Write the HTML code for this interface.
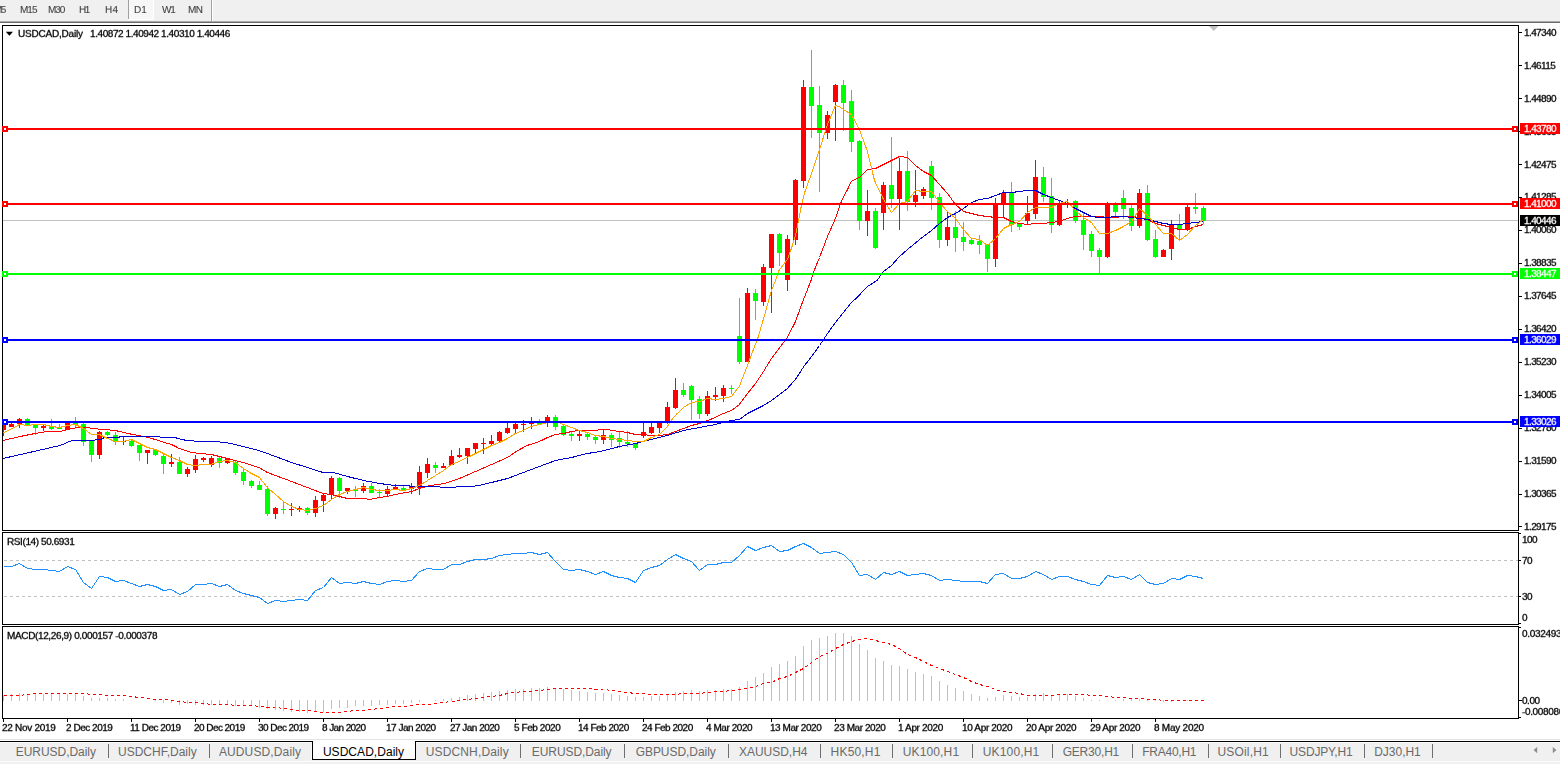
<!DOCTYPE html>
<html><head><meta charset="utf-8"><title>USDCAD,Daily</title><style>
html,body{margin:0;padding:0}
body{width:1560px;height:764px;overflow:hidden;background:#fff;position:relative;font-family:"Liberation Sans",sans-serif;}
.t{position:absolute;white-space:pre;line-height:12px;height:12px;font-size:10px;color:#000;letter-spacing:-0.33px}
.tb{position:absolute;white-space:pre;font-size:10px;line-height:12px;color:#3c3c3c;top:3.8px}
.pl{position:absolute;white-space:pre;font-size:10px;line-height:12px;height:12px;color:#000;letter-spacing:-0.6px;left:1524.3px}
.bx{position:absolute;left:1520px;width:40px;height:11px;}
.bx span{position:absolute;left:4.3px;top:-0.3px;white-space:pre;font-size:10px;line-height:12px;color:#fff;letter-spacing:-0.6px}
.dl{position:absolute;white-space:pre;font-size:10px;line-height:12px;top:721.7px;color:#000}
.tab{position:absolute;white-space:pre;font-size:12px;line-height:14px;top:745px;color:#6a6a6a}
.sep{position:absolute;top:744px;width:1px;height:14px;background:#6e6e6e}
svg{position:absolute;left:0;top:0}
.t,.tb,.pl,.bx span,.dl{transform:scaleY(0.89);transform-origin:0 9.4px;will-change:transform;-webkit-text-stroke:0.3px}
.tb{-webkit-text-stroke:0.08px}

</style></head><body>
<div style="position:absolute;left:0;top:0;width:1560px;height:21px;background:#f0f0f0"></div>
<div style="position:absolute;left:0;top:21px;width:1560px;height:1px;background:#a9a9a9"></div>
<div style="position:absolute;left:0;top:22px;width:1560px;height:1px;background:#6b6b6b"></div>
<div style="position:absolute;left:129px;top:0;width:24px;height:19px;background:#f7f7f7"></div>
<div style="position:absolute;left:128px;top:0;width:1px;height:19px;background:#a0a0a0"></div>
<div style="position:absolute;left:153px;top:0;width:1px;height:20px;background:#fff"></div>
<div style="position:absolute;left:128px;top:19px;width:26px;height:1px;background:#fff"></div>
<div style="position:absolute;left:212px;top:0;width:1px;height:21px;background:#fff"></div>
<div style="position:absolute;left:211px;top:0;width:1px;height:21px;background:#a0a0a0"></div>
<div class="tb" style="left:-6.0px;letter-spacing:-1.692px">M5</div>
<div class="tb" style="left:19.6px;letter-spacing:-0.977px">M15</div>
<div class="tb" style="left:47.9px;letter-spacing:-1.077px">M30</div>
<div class="tb" style="left:78.7px;letter-spacing:-1.583px">H1</div>
<div class="tb" style="left:105.2px;letter-spacing:0.217px">H4</div>
<div class="tb" style="left:133.9px;letter-spacing:-0.083px">D1</div>
<div class="tb" style="left:162px;letter-spacing:-1.200px">W1</div>
<div class="tb" style="left:188.3px;letter-spacing:-0.552px">MN</div>
<svg width="1560" height="764" viewBox="0 0 1560 764" shape-rendering="crispEdges">
<defs><clipPath id="cm"><rect x="3" y="26" width="1515" height="504"/></clipPath></defs>
<rect x="3" y="220" width="1515" height="1" fill="#c0c0c0"/>
<g clip-path="url(#cm)">
<rect x="3" y="425" width="1" height="11" fill="#ff0000"/>
<rect x="1" y="425" width="5" height="5" fill="#ff0000"/>
<rect x="11" y="423" width="1" height="4" fill="#ff0000"/>
<rect x="9" y="424" width="5" height="3" fill="#ff0000"/>
<rect x="19" y="418" width="1" height="10" fill="#ff0000"/>
<rect x="17" y="419" width="5" height="5" fill="#ff0000"/>
<rect x="27" y="418" width="1" height="8" fill="#00ff00"/>
<rect x="25" y="419" width="5" height="6" fill="#00ff00"/>
<rect x="35" y="424" width="1" height="11" fill="#00ff00"/>
<rect x="33" y="425" width="5" height="3" fill="#00ff00"/>
<rect x="43" y="424" width="1" height="7" fill="#ff0000"/>
<rect x="41" y="426" width="5" height="2" fill="#ff0000"/>
<rect x="51" y="419" width="1" height="11" fill="#00ff00"/>
<rect x="49" y="426" width="5" height="3" fill="#00ff00"/>
<rect x="59" y="424" width="1" height="4" fill="#00ff00"/>
<rect x="57" y="428" width="5" height="1" fill="#00ff00"/>
<rect x="67" y="423" width="1" height="7" fill="#ff0000"/>
<rect x="65" y="423" width="5" height="7" fill="#ff0000"/>
<rect x="75" y="417" width="1" height="11" fill="#00ff00"/>
<rect x="73" y="423" width="5" height="2" fill="#00ff00"/>
<rect x="83" y="423" width="1" height="23" fill="#00ff00"/>
<rect x="81" y="424" width="5" height="18" fill="#00ff00"/>
<rect x="91" y="441" width="1" height="21" fill="#00ff00"/>
<rect x="89" y="441" width="5" height="14" fill="#00ff00"/>
<rect x="99" y="431" width="1" height="28" fill="#ff0000"/>
<rect x="97" y="432" width="5" height="23" fill="#ff0000"/>
<rect x="107" y="431" width="1" height="5" fill="#00ff00"/>
<rect x="105" y="432" width="5" height="3" fill="#00ff00"/>
<rect x="115" y="432" width="1" height="13" fill="#00ff00"/>
<rect x="113" y="435" width="5" height="7" fill="#00ff00"/>
<rect x="123" y="437" width="1" height="8" fill="#ff0000"/>
<rect x="121" y="441" width="5" height="1" fill="#ff0000"/>
<rect x="131" y="440" width="1" height="7" fill="#00ff00"/>
<rect x="129" y="441" width="5" height="5" fill="#00ff00"/>
<rect x="139" y="445" width="1" height="16" fill="#00ff00"/>
<rect x="137" y="445" width="5" height="8" fill="#00ff00"/>
<rect x="147" y="450" width="1" height="14" fill="#ff0000"/>
<rect x="145" y="450" width="5" height="3" fill="#ff0000"/>
<rect x="155" y="449" width="1" height="7" fill="#00ff00"/>
<rect x="153" y="450" width="5" height="5" fill="#00ff00"/>
<rect x="163" y="454" width="1" height="20" fill="#00ff00"/>
<rect x="161" y="456" width="5" height="8" fill="#00ff00"/>
<rect x="171" y="454" width="1" height="13" fill="#ff0000"/>
<rect x="169" y="462" width="5" height="2" fill="#ff0000"/>
<rect x="179" y="457" width="1" height="17" fill="#00ff00"/>
<rect x="177" y="462" width="5" height="12" fill="#00ff00"/>
<rect x="187" y="467" width="1" height="10" fill="#ff0000"/>
<rect x="185" y="469" width="5" height="5" fill="#ff0000"/>
<rect x="195" y="455" width="1" height="18" fill="#ff0000"/>
<rect x="193" y="459" width="5" height="11" fill="#ff0000"/>
<rect x="203" y="457" width="1" height="5" fill="#ff0000"/>
<rect x="201" y="458" width="5" height="2" fill="#ff0000"/>
<rect x="211" y="456" width="1" height="11" fill="#ff0000"/>
<rect x="209" y="458" width="5" height="7" fill="#ff0000"/>
<rect x="219" y="457" width="1" height="11" fill="#00ff00"/>
<rect x="217" y="458" width="5" height="5" fill="#00ff00"/>
<rect x="227" y="458" width="1" height="6" fill="#ff0000"/>
<rect x="225" y="459" width="5" height="4" fill="#ff0000"/>
<rect x="235" y="461" width="1" height="14" fill="#00ff00"/>
<rect x="233" y="462" width="5" height="11" fill="#00ff00"/>
<rect x="243" y="468" width="1" height="17" fill="#00ff00"/>
<rect x="241" y="472" width="5" height="9" fill="#00ff00"/>
<rect x="251" y="480" width="1" height="8" fill="#00ff00"/>
<rect x="249" y="481" width="5" height="5" fill="#00ff00"/>
<rect x="259" y="481" width="1" height="9" fill="#00ff00"/>
<rect x="257" y="485" width="5" height="5" fill="#00ff00"/>
<rect x="267" y="486" width="1" height="30" fill="#00ff00"/>
<rect x="265" y="489" width="5" height="25" fill="#00ff00"/>
<rect x="275" y="507" width="1" height="12" fill="#ff0000"/>
<rect x="273" y="508" width="5" height="6" fill="#ff0000"/>
<rect x="283" y="502" width="1" height="12" fill="#00ff00"/>
<rect x="281" y="509" width="5" height="1" fill="#00ff00"/>
<rect x="291" y="503" width="1" height="13" fill="#ff0000"/>
<rect x="289" y="509" width="5" height="1" fill="#ff0000"/>
<rect x="299" y="506" width="1" height="6" fill="#ff0000"/>
<rect x="297" y="508" width="5" height="2" fill="#ff0000"/>
<rect x="307" y="507" width="1" height="8" fill="#00ff00"/>
<rect x="305" y="508" width="5" height="5" fill="#00ff00"/>
<rect x="315" y="496" width="1" height="21" fill="#ff0000"/>
<rect x="313" y="500" width="5" height="13" fill="#ff0000"/>
<rect x="323" y="493" width="1" height="19" fill="#ff0000"/>
<rect x="321" y="495" width="5" height="6" fill="#ff0000"/>
<rect x="331" y="476" width="1" height="23" fill="#ff0000"/>
<rect x="329" y="478" width="5" height="17" fill="#ff0000"/>
<rect x="339" y="477" width="1" height="21" fill="#00ff00"/>
<rect x="337" y="478" width="5" height="13" fill="#00ff00"/>
<rect x="347" y="488" width="1" height="6" fill="#ff0000"/>
<rect x="345" y="488" width="5" height="3" fill="#ff0000"/>
<rect x="355" y="486" width="1" height="11" fill="#00ff00"/>
<rect x="353" y="490" width="5" height="1" fill="#00ff00"/>
<rect x="363" y="483" width="1" height="10" fill="#ff0000"/>
<rect x="361" y="486" width="5" height="5" fill="#ff0000"/>
<rect x="371" y="483" width="1" height="10" fill="#00ff00"/>
<rect x="369" y="486" width="5" height="7" fill="#00ff00"/>
<rect x="379" y="489" width="1" height="8" fill="#00ff00"/>
<rect x="377" y="492" width="5" height="1" fill="#00ff00"/>
<rect x="387" y="486" width="1" height="11" fill="#ff0000"/>
<rect x="385" y="489" width="5" height="5" fill="#ff0000"/>
<rect x="395" y="484" width="1" height="6" fill="#ff0000"/>
<rect x="393" y="487" width="5" height="3" fill="#ff0000"/>
<rect x="403" y="486" width="1" height="4" fill="#00ff00"/>
<rect x="401" y="488" width="5" height="2" fill="#00ff00"/>
<rect x="411" y="483" width="1" height="11" fill="#ff0000"/>
<rect x="409" y="486" width="5" height="3" fill="#ff0000"/>
<rect x="419" y="466" width="1" height="29" fill="#ff0000"/>
<rect x="417" y="472" width="5" height="16" fill="#ff0000"/>
<rect x="427" y="458" width="1" height="20" fill="#ff0000"/>
<rect x="425" y="464" width="5" height="9" fill="#ff0000"/>
<rect x="435" y="462" width="1" height="11" fill="#00ff00"/>
<rect x="433" y="465" width="5" height="3" fill="#00ff00"/>
<rect x="443" y="463" width="1" height="5" fill="#ff0000"/>
<rect x="441" y="466" width="5" height="2" fill="#ff0000"/>
<rect x="451" y="450" width="1" height="15" fill="#ff0000"/>
<rect x="449" y="456" width="5" height="9" fill="#ff0000"/>
<rect x="459" y="448" width="1" height="10" fill="#ff0000"/>
<rect x="457" y="455" width="5" height="2" fill="#ff0000"/>
<rect x="467" y="448" width="1" height="16" fill="#ff0000"/>
<rect x="465" y="448" width="5" height="8" fill="#ff0000"/>
<rect x="475" y="443" width="1" height="10" fill="#ff0000"/>
<rect x="473" y="443" width="5" height="6" fill="#ff0000"/>
<rect x="483" y="438" width="1" height="16" fill="#ff0000"/>
<rect x="481" y="443" width="5" height="1" fill="#ff0000"/>
<rect x="491" y="435" width="1" height="11" fill="#ff0000"/>
<rect x="489" y="441" width="5" height="3" fill="#ff0000"/>
<rect x="499" y="431" width="1" height="11" fill="#ff0000"/>
<rect x="497" y="432" width="5" height="9" fill="#ff0000"/>
<rect x="507" y="423" width="1" height="11" fill="#ff0000"/>
<rect x="505" y="428" width="5" height="5" fill="#ff0000"/>
<rect x="515" y="423" width="1" height="11" fill="#ff0000"/>
<rect x="513" y="424" width="5" height="5" fill="#ff0000"/>
<rect x="523" y="420" width="1" height="12" fill="#ff0000"/>
<rect x="521" y="424" width="5" height="1" fill="#ff0000"/>
<rect x="531" y="417" width="1" height="12" fill="#ff0000"/>
<rect x="529" y="423" width="5" height="1" fill="#ff0000"/>
<rect x="539" y="419" width="1" height="5" fill="#00ff00"/>
<rect x="537" y="422" width="5" height="2" fill="#00ff00"/>
<rect x="547" y="415" width="1" height="12" fill="#ff0000"/>
<rect x="545" y="417" width="5" height="6" fill="#ff0000"/>
<rect x="555" y="415" width="1" height="15" fill="#00ff00"/>
<rect x="553" y="417" width="5" height="10" fill="#00ff00"/>
<rect x="563" y="424" width="1" height="12" fill="#00ff00"/>
<rect x="561" y="426" width="5" height="9" fill="#00ff00"/>
<rect x="571" y="432" width="1" height="9" fill="#00ff00"/>
<rect x="569" y="434" width="5" height="2" fill="#00ff00"/>
<rect x="579" y="430" width="1" height="11" fill="#ff0000"/>
<rect x="577" y="434" width="5" height="2" fill="#ff0000"/>
<rect x="587" y="433" width="1" height="7" fill="#00ff00"/>
<rect x="585" y="434" width="5" height="3" fill="#00ff00"/>
<rect x="595" y="436" width="1" height="8" fill="#00ff00"/>
<rect x="593" y="437" width="5" height="3" fill="#00ff00"/>
<rect x="603" y="430" width="1" height="14" fill="#ff0000"/>
<rect x="601" y="435" width="5" height="5" fill="#ff0000"/>
<rect x="611" y="433" width="1" height="14" fill="#00ff00"/>
<rect x="609" y="435" width="5" height="5" fill="#00ff00"/>
<rect x="619" y="432" width="1" height="16" fill="#00ff00"/>
<rect x="617" y="438" width="5" height="4" fill="#00ff00"/>
<rect x="627" y="431" width="1" height="16" fill="#00ff00"/>
<rect x="625" y="442" width="5" height="2" fill="#00ff00"/>
<rect x="635" y="444" width="1" height="6" fill="#00ff00"/>
<rect x="633" y="444" width="5" height="4" fill="#00ff00"/>
<rect x="643" y="423" width="1" height="15" fill="#ff0000"/>
<rect x="641" y="432" width="5" height="4" fill="#ff0000"/>
<rect x="651" y="423" width="1" height="11" fill="#ff0000"/>
<rect x="649" y="427" width="5" height="6" fill="#ff0000"/>
<rect x="659" y="423" width="1" height="10" fill="#ff0000"/>
<rect x="657" y="423" width="5" height="5" fill="#ff0000"/>
<rect x="667" y="402" width="1" height="22" fill="#ff0000"/>
<rect x="665" y="407" width="5" height="15" fill="#ff0000"/>
<rect x="675" y="378" width="1" height="31" fill="#ff0000"/>
<rect x="673" y="390" width="5" height="18" fill="#ff0000"/>
<rect x="683" y="383" width="1" height="14" fill="#00ff00"/>
<rect x="681" y="390" width="5" height="5" fill="#00ff00"/>
<rect x="691" y="385" width="1" height="35" fill="#00ff00"/>
<rect x="689" y="386" width="5" height="14" fill="#00ff00"/>
<rect x="699" y="396" width="1" height="23" fill="#00ff00"/>
<rect x="697" y="399" width="5" height="15" fill="#00ff00"/>
<rect x="707" y="391" width="1" height="25" fill="#ff0000"/>
<rect x="705" y="396" width="5" height="18" fill="#ff0000"/>
<rect x="715" y="387" width="1" height="14" fill="#ff0000"/>
<rect x="713" y="395" width="5" height="2" fill="#ff0000"/>
<rect x="723" y="385" width="1" height="17" fill="#ff0000"/>
<rect x="721" y="388" width="5" height="8" fill="#ff0000"/>
<rect x="731" y="385" width="1" height="9" fill="#00ff00"/>
<rect x="729" y="388" width="5" height="1" fill="#00ff00"/>
<rect x="739" y="298" width="1" height="66" fill="#00ff00"/>
<rect x="737" y="336" width="5" height="26" fill="#00ff00"/>
<rect x="747" y="288" width="1" height="74" fill="#ff0000"/>
<rect x="745" y="293" width="5" height="69" fill="#ff0000"/>
<rect x="755" y="289" width="1" height="31" fill="#00ff00"/>
<rect x="753" y="293" width="5" height="8" fill="#00ff00"/>
<rect x="763" y="264" width="1" height="42" fill="#ff0000"/>
<rect x="761" y="267" width="5" height="35" fill="#ff0000"/>
<rect x="771" y="234" width="1" height="79" fill="#ff0000"/>
<rect x="769" y="234" width="5" height="34" fill="#ff0000"/>
<rect x="779" y="233" width="1" height="33" fill="#00ff00"/>
<rect x="777" y="234" width="5" height="19" fill="#00ff00"/>
<rect x="787" y="235" width="1" height="56" fill="#ff0000"/>
<rect x="785" y="239" width="5" height="41" fill="#ff0000"/>
<rect x="795" y="179" width="1" height="66" fill="#ff0000"/>
<rect x="793" y="180" width="5" height="60" fill="#ff0000"/>
<rect x="803" y="80" width="1" height="108" fill="#ff0000"/>
<rect x="801" y="87" width="5" height="94" fill="#ff0000"/>
<rect x="811" y="50" width="1" height="88" fill="#00ff00"/>
<rect x="809" y="87" width="5" height="19" fill="#00ff00"/>
<rect x="819" y="86" width="1" height="106" fill="#00ff00"/>
<rect x="817" y="105" width="5" height="28" fill="#00ff00"/>
<rect x="827" y="111" width="1" height="28" fill="#ff0000"/>
<rect x="825" y="115" width="5" height="18" fill="#ff0000"/>
<rect x="835" y="84" width="1" height="57" fill="#ff0000"/>
<rect x="833" y="85" width="5" height="17" fill="#ff0000"/>
<rect x="843" y="80" width="1" height="51" fill="#00ff00"/>
<rect x="841" y="85" width="5" height="18" fill="#00ff00"/>
<rect x="851" y="90" width="1" height="62" fill="#00ff00"/>
<rect x="849" y="101" width="5" height="41" fill="#00ff00"/>
<rect x="859" y="140" width="1" height="90" fill="#00ff00"/>
<rect x="857" y="141" width="5" height="80" fill="#00ff00"/>
<rect x="867" y="190" width="1" height="46" fill="#ff0000"/>
<rect x="865" y="211" width="5" height="10" fill="#ff0000"/>
<rect x="875" y="208" width="1" height="41" fill="#00ff00"/>
<rect x="873" y="211" width="5" height="37" fill="#00ff00"/>
<rect x="883" y="182" width="1" height="48" fill="#ff0000"/>
<rect x="881" y="185" width="5" height="28" fill="#ff0000"/>
<rect x="891" y="137" width="1" height="71" fill="#00ff00"/>
<rect x="889" y="185" width="5" height="14" fill="#00ff00"/>
<rect x="899" y="158" width="1" height="72" fill="#ff0000"/>
<rect x="897" y="171" width="5" height="28" fill="#ff0000"/>
<rect x="907" y="151" width="1" height="60" fill="#00ff00"/>
<rect x="905" y="171" width="5" height="31" fill="#00ff00"/>
<rect x="915" y="170" width="1" height="37" fill="#ff0000"/>
<rect x="913" y="195" width="5" height="7" fill="#ff0000"/>
<rect x="923" y="187" width="1" height="12" fill="#ff0000"/>
<rect x="921" y="189" width="5" height="7" fill="#ff0000"/>
<rect x="931" y="161" width="1" height="49" fill="#00ff00"/>
<rect x="929" y="166" width="5" height="32" fill="#00ff00"/>
<rect x="939" y="193" width="1" height="55" fill="#00ff00"/>
<rect x="937" y="197" width="5" height="43" fill="#00ff00"/>
<rect x="947" y="211" width="1" height="35" fill="#ff0000"/>
<rect x="945" y="227" width="5" height="13" fill="#ff0000"/>
<rect x="955" y="211" width="1" height="41" fill="#00ff00"/>
<rect x="953" y="227" width="5" height="11" fill="#00ff00"/>
<rect x="963" y="222" width="1" height="29" fill="#00ff00"/>
<rect x="961" y="237" width="5" height="5" fill="#00ff00"/>
<rect x="971" y="239" width="1" height="6" fill="#00ff00"/>
<rect x="969" y="240" width="5" height="4" fill="#00ff00"/>
<rect x="979" y="235" width="1" height="19" fill="#00ff00"/>
<rect x="977" y="241" width="5" height="4" fill="#00ff00"/>
<rect x="987" y="244" width="1" height="28" fill="#00ff00"/>
<rect x="985" y="244" width="5" height="15" fill="#00ff00"/>
<rect x="995" y="198" width="1" height="69" fill="#ff0000"/>
<rect x="993" y="204" width="5" height="55" fill="#ff0000"/>
<rect x="1003" y="190" width="1" height="28" fill="#ff0000"/>
<rect x="1001" y="193" width="5" height="11" fill="#ff0000"/>
<rect x="1011" y="182" width="1" height="50" fill="#00ff00"/>
<rect x="1009" y="192" width="5" height="33" fill="#00ff00"/>
<rect x="1019" y="224" width="1" height="6" fill="#00ff00"/>
<rect x="1017" y="224" width="5" height="3" fill="#00ff00"/>
<rect x="1027" y="196" width="1" height="29" fill="#ff0000"/>
<rect x="1025" y="213" width="5" height="8" fill="#ff0000"/>
<rect x="1035" y="160" width="1" height="59" fill="#ff0000"/>
<rect x="1033" y="177" width="5" height="37" fill="#ff0000"/>
<rect x="1043" y="167" width="1" height="35" fill="#00ff00"/>
<rect x="1041" y="177" width="5" height="20" fill="#00ff00"/>
<rect x="1051" y="178" width="1" height="55" fill="#00ff00"/>
<rect x="1049" y="196" width="5" height="29" fill="#00ff00"/>
<rect x="1059" y="201" width="1" height="25" fill="#ff0000"/>
<rect x="1057" y="204" width="5" height="21" fill="#ff0000"/>
<rect x="1067" y="199" width="1" height="9" fill="#ff0000"/>
<rect x="1065" y="203" width="5" height="2" fill="#ff0000"/>
<rect x="1075" y="200" width="1" height="23" fill="#00ff00"/>
<rect x="1073" y="201" width="5" height="20" fill="#00ff00"/>
<rect x="1083" y="213" width="1" height="37" fill="#00ff00"/>
<rect x="1081" y="220" width="5" height="15" fill="#00ff00"/>
<rect x="1091" y="231" width="1" height="26" fill="#00ff00"/>
<rect x="1089" y="234" width="5" height="17" fill="#00ff00"/>
<rect x="1099" y="248" width="1" height="25" fill="#00ff00"/>
<rect x="1097" y="250" width="5" height="7" fill="#00ff00"/>
<rect x="1107" y="202" width="1" height="56" fill="#ff0000"/>
<rect x="1105" y="204" width="5" height="53" fill="#ff0000"/>
<rect x="1115" y="202" width="1" height="14" fill="#00ff00"/>
<rect x="1113" y="205" width="5" height="7" fill="#00ff00"/>
<rect x="1123" y="190" width="1" height="29" fill="#00ff00"/>
<rect x="1121" y="198" width="5" height="11" fill="#00ff00"/>
<rect x="1131" y="205" width="1" height="26" fill="#00ff00"/>
<rect x="1129" y="208" width="5" height="18" fill="#00ff00"/>
<rect x="1139" y="189" width="1" height="39" fill="#ff0000"/>
<rect x="1137" y="193" width="5" height="33" fill="#ff0000"/>
<rect x="1147" y="185" width="1" height="56" fill="#00ff00"/>
<rect x="1145" y="193" width="5" height="47" fill="#00ff00"/>
<rect x="1155" y="230" width="1" height="28" fill="#00ff00"/>
<rect x="1153" y="239" width="5" height="18" fill="#00ff00"/>
<rect x="1163" y="249" width="1" height="8" fill="#ff0000"/>
<rect x="1161" y="250" width="5" height="7" fill="#ff0000"/>
<rect x="1171" y="220" width="1" height="40" fill="#ff0000"/>
<rect x="1169" y="224" width="5" height="25" fill="#ff0000"/>
<rect x="1179" y="214" width="1" height="27" fill="#00ff00"/>
<rect x="1177" y="225" width="5" height="4" fill="#00ff00"/>
<rect x="1187" y="205" width="1" height="26" fill="#ff0000"/>
<rect x="1185" y="207" width="5" height="23" fill="#ff0000"/>
<rect x="1195" y="193" width="1" height="21" fill="#00ff00"/>
<rect x="1193" y="207" width="5" height="2" fill="#00ff00"/>
<rect x="1203" y="206" width="1" height="18" fill="#00ff00"/>
<rect x="1201" y="208" width="5" height="13" fill="#00ff00"/>
</g>
<polyline points="3.0,440.5 20.0,436.5 35.0,433.5 47.0,431.5 60.0,431.5 64.7,430.5 71.0,428.5 78.9,427.5 87.5,427.5 92.0,428.5 104.0,429.5 115.0,430.5 120.0,431.5 124.0,432.5 128.0,433.5 133.0,434.5 139.0,435.5 148.0,437.5 151.5,438.5 155.4,439.5 159.0,440.5 164.0,442.5 168.0,443.5 171.5,444.5 175.5,446.5 179.0,448.5 192.0,452.5 200.0,453.5 211.5,454.5 227.5,458.5 243.0,462.5 259.0,467.5 267.4,472.5 275.5,475.5 291.6,481.5 307.3,487.5 323.0,493.5 331.4,494.5 339.4,496.5 347.5,498.5 363.6,498.5 370.0,499.5 379.5,497.5 387.4,496.5 395.4,494.5 400.0,493.5 411.5,491.5 419.5,488.5 430.0,485.5 444.5,483.5 459.4,478.5 475.5,471.5 491.5,464.5 507.5,457.5 517.8,450.5 527.0,445.5 539.4,441.5 547.5,437.5 555.5,434.5 563.5,433.5 571.5,431.5 579.5,430.5 596.0,430.5 600.0,429.5 606.5,429.5 619.5,431.5 627.5,432.5 635.5,434.5 643.5,434.5 651.4,435.5 659.4,435.5 667.4,434.5 675.5,431.5 683.5,428.5 691.5,425.5 699.5,423.5 707.5,420.5 715.4,417.5 723.4,413.5 731.4,410.5 739.4,404.5 747.5,393.5 755.5,383.5 763.5,371.5 771.4,358.5 787.4,337.5 795.5,321.5 803.5,299.5 811.0,280.5 814.2,270.5 819.5,257.5 827.5,236.5 835.4,218.5 841.7,200.5 847.0,190.5 851.4,181.5 859.4,177.5 867.5,169.5 875.5,168.5 883.5,164.5 891.5,160.5 899.5,156.5 907.5,157.5 915.4,165.5 923.5,171.5 931.5,175.5 939.5,184.5 947.5,193.5 955.5,204.5 963.5,211.5 971.5,213.5 979.5,215.5 987.4,216.5 995.5,217.5 1003.5,217.5 1011.5,221.5 1019.5,223.5 1027.5,224.5 1035.5,223.5 1043.5,223.5 1051.4,222.5 1059.4,221.5 1067.4,218.5 1075.4,216.5 1083.4,216.5 1091.4,216.5 1099.5,216.5 1107.5,217.5 1115.5,217.5 1123.5,216.5 1131.5,216.5 1139.5,217.5 1147.4,219.5 1155.5,223.5 1163.5,225.5 1171.5,227.5 1179.5,229.5 1187.5,229.5 1195.5,226.5 1203.5,224.5" fill="none" stroke="#ff0000" stroke-width="1" shape-rendering="crispEdges" clip-path="url(#cm)"/>
<polyline points="3.0,458.5 60.0,445.5 65.0,443.5 69.4,441.5 73.5,440.5 94.6,440.5 95.5,439.5 100.8,439.5 102.0,438.5 105.0,437.5 119.0,437.5 119.5,436.5 159.8,436.5 160.3,437.5 176.3,437.5 177.0,438.5 187.0,440.5 200.0,441.5 215.7,441.5 231.4,443.5 243.0,446.5 259.0,450.5 275.5,456.5 291.6,462.5 307.3,467.5 323.0,472.5 333.5,472.5 347.5,476.5 363.6,480.5 379.5,483.5 395.4,485.5 400.0,485.5 408.0,485.5 411.5,486.5 439.0,486.5 440.6,487.5 455.0,487.5 457.6,486.5 470.7,486.5 478.5,485.5 491.6,482.5 507.5,478.5 523.4,472.5 539.4,466.5 555.5,460.5 571.5,457.5 587.4,453.5 600.0,451.5 619.5,446.5 635.5,443.5 651.4,439.5 667.4,435.5 683.5,430.5 699.5,427.5 715.4,424.5 731.4,420.5 739.4,419.5 747.5,413.5 755.5,409.5 763.5,405.5 771.5,400.5 779.5,394.5 787.4,388.5 795.4,379.5 803.8,366.5 811.6,356.5 819.5,345.5 827.5,333.5 835.4,322.5 843.4,312.5 851.4,302.5 856.0,298.5 867.5,286.5 877.0,280.5 883.5,271.5 891.5,265.5 899.5,256.5 907.5,249.5 919.6,239.5 931.5,230.5 939.5,223.5 947.5,217.5 955.5,213.5 963.5,208.5 971.5,202.5 979.5,199.5 987.4,198.5 995.5,195.5 1003.5,192.5 1011.5,192.5 1019.5,191.5 1027.5,190.5 1035.5,190.5 1043.5,194.5 1051.4,197.5 1059.4,200.5 1067.4,203.5 1075.4,208.5 1083.4,212.5 1091.4,216.5 1099.5,217.5 1107.5,217.5 1115.5,216.5 1123.5,216.5 1131.5,217.5 1139.5,218.5 1147.4,219.5 1155.5,221.5 1163.5,223.5 1171.5,224.5 1179.5,224.5 1187.5,223.5 1195.5,222.5 1203.5,221.5" fill="none" stroke="#0000cd" stroke-width="1" shape-rendering="crispEdges" clip-path="url(#cm)"/>
<polyline points="3.0,432.5 4.0,432.5 19.6,424.5 27.5,425.5 35.3,424.5 43.5,424.5 51.4,426.5 59.5,427.5 67.5,425.5 75.5,424.5 83.5,428.5 91.5,434.5 99.5,434.5 107.5,438.5 115.4,441.5 123.4,441.5 131.4,439.5 139.4,443.5 147.5,447.5 155.5,449.5 163.5,453.5 171.5,457.5 179.5,460.5 187.4,464.5 195.4,465.5 203.5,464.5 211.0,464.5 219.5,461.5 227.5,460.5 235.5,462.5 243.5,468.5 251.4,473.5 259.4,477.5 267.4,487.5 275.5,494.5 283.5,501.5 291.5,506.5 299.5,509.5 307.5,510.5 315.4,508.5 323.4,505.5 331.4,499.5 339.4,494.5 347.5,491.5 355.5,489.5 363.5,487.5 371.5,489.5 379.5,490.5 387.4,490.5 395.4,489.5 403.5,490.5 411.5,488.5 419.5,485.5 427.5,480.5 435.5,475.5 443.5,470.5 451.4,464.5 459.4,461.5 467.4,457.5 475.5,453.5 483.5,449.5 491.5,445.5 499.5,442.5 507.5,438.5 515.4,433.5 523.4,430.5 531.4,426.5 539.4,424.5 545.0,423.5 547.5,422.5 555.5,422.5 559.0,422.5 561.0,423.5 563.5,424.5 571.5,427.5 579.5,430.5 587.4,432.5 595.4,435.5 603.5,436.5 611.5,438.5 619.5,439.5 627.5,440.5 635.5,441.5 643.5,441.5 651.4,437.5 659.4,434.5 667.4,426.5 673.3,417.5 677.2,413.5 683.5,407.5 691.5,402.5 699.5,401.5 707.5,398.5 715.4,399.5 723.4,398.5 731.4,396.5 736.0,390.5 739.4,386.5 742.7,377.5 747.5,365.5 750.0,358.5 758.0,337.5 764.5,315.5 771.4,290.5 775.6,280.5 778.9,270.5 787.4,259.5 790.7,250.5 795.5,235.5 798.5,220.5 801.8,203.5 805.0,191.5 811.5,173.5 819.5,149.5 827.5,124.5 835.4,105.5 839.0,106.5 843.4,109.5 851.4,114.5 859.4,129.5 867.5,151.5 871.8,169.5 874.5,180.5 883.5,199.5 891.5,212.5 899.5,203.5 907.5,201.5 915.4,190.5 923.5,191.5 931.5,191.5 939.5,202.5 947.5,211.5 955.5,218.5 963.5,229.5 971.5,238.5 979.5,239.5 987.4,245.5 995.5,238.5 1003.5,228.5 1011.5,224.5 1019.5,221.5 1027.5,212.5 1035.5,207.5 1043.5,207.5 1051.4,207.5 1059.4,203.5 1067.4,201.5 1075.4,210.5 1083.4,217.5 1091.4,222.5 1099.5,233.5 1107.5,233.5 1115.5,230.5 1123.5,226.5 1131.5,221.5 1135.5,215.5 1139.5,208.5 1147.4,215.5 1155.5,224.5 1163.5,233.5 1171.5,233.5 1179.5,240.5 1187.5,234.5 1195.5,225.5 1203.5,219.5" fill="none" stroke="#ffa500" stroke-width="1" shape-rendering="crispEdges" clip-path="url(#cm)"/>
<rect x="3" y="128" width="1515" height="2" fill="#ff0000"/>
<rect x="2" y="126" width="6" height="6" fill="#ff0000"/>
<rect x="4" y="128" width="2" height="2" fill="#fff"/>
<rect x="1512" y="126" width="6" height="6" fill="#ff0000"/>
<rect x="1514" y="128" width="2" height="2" fill="#fff"/>
<rect x="3" y="203" width="1515" height="2" fill="#ff0000"/>
<rect x="2" y="201" width="6" height="6" fill="#ff0000"/>
<rect x="4" y="203" width="2" height="2" fill="#fff"/>
<rect x="1512" y="201" width="6" height="6" fill="#ff0000"/>
<rect x="1514" y="203" width="2" height="2" fill="#fff"/>
<rect x="3" y="273" width="1515" height="2" fill="#00ff00"/>
<rect x="2" y="271" width="6" height="6" fill="#00ff00"/>
<rect x="4" y="273" width="2" height="2" fill="#fff"/>
<rect x="1512" y="271" width="6" height="6" fill="#00ff00"/>
<rect x="1514" y="273" width="2" height="2" fill="#fff"/>
<rect x="3" y="339" width="1515" height="2" fill="#0000ff"/>
<rect x="2" y="337" width="6" height="6" fill="#0000ff"/>
<rect x="4" y="339" width="2" height="2" fill="#fff"/>
<rect x="1512" y="337" width="6" height="6" fill="#0000ff"/>
<rect x="1514" y="339" width="2" height="2" fill="#fff"/>
<rect x="3" y="421" width="1515" height="2" fill="#0000ff"/>
<rect x="2" y="419" width="6" height="6" fill="#0000ff"/>
<rect x="4" y="421" width="2" height="2" fill="#fff"/>
<rect x="1512" y="419" width="6" height="6" fill="#0000ff"/>
<rect x="1514" y="421" width="2" height="2" fill="#fff"/>
<polygon points="1209,26 1218.5,26 1213.7,31" fill="#c0c0c0" shape-rendering="geometricPrecision"/>
<line x1="4" y1="560.5" x2="1518" y2="560.5" stroke="#c0c0c0" stroke-width="1" stroke-dasharray="3,3"/>
<line x1="4" y1="596.5" x2="1518" y2="596.5" stroke="#c0c0c0" stroke-width="1" stroke-dasharray="3,3"/>
<polyline points="3.5,566.5 11.5,566.5 19.5,563.5 27.5,568.5 35.5,569.5 43.5,569.5 51.5,570.5 59.5,571.5 67.5,566.5 75.5,569.5 83.5,582.5 91.5,588.5 99.5,576.5 107.5,577.5 115.5,581.5 123.5,580.5 131.5,583.5 139.5,586.5 147.5,584.5 155.5,586.5 163.5,590.5 171.5,589.5 179.5,594.5 187.5,591.5 195.5,584.5 203.5,584.5 211.5,583.5 219.5,586.5 227.5,584.5 235.5,590.5 243.5,593.5 251.5,595.5 259.5,597.5 267.5,603.5 275.5,600.5 283.5,601.5 291.5,600.5 299.5,599.5 307.5,600.5 315.5,590.5 323.5,587.5 331.5,577.5 339.5,583.5 347.5,582.5 355.5,583.5 363.5,581.5 371.5,583.5 379.5,584.5 387.5,581.5 395.5,580.5 403.5,581.5 411.5,580.5 419.5,571.5 427.5,568.5 435.5,569.5 443.5,569.5 451.5,564.5 459.5,564.5 467.5,561.5 475.5,559.5 483.5,559.5 491.5,558.5 499.5,555.5 507.5,554.5 515.5,553.5 523.5,553.5 531.5,552.5 539.5,554.5 547.5,552.5 555.5,561.5 563.5,569.5 571.5,570.5 579.5,569.5 587.5,571.5 595.5,574.5 603.5,571.5 611.5,575.5 619.5,577.5 627.5,578.5 635.5,582.5 643.5,570.5 651.5,567.5 659.5,565.5 667.5,559.5 675.5,554.5 683.5,558.5 691.5,561.5 699.5,570.5 707.5,564.5 715.5,564.5 723.5,562.5 731.5,562.5 739.5,555.5 747.5,546.5 755.5,550.5 763.5,547.5 771.5,545.5 779.5,551.5 787.5,550.5 795.5,546.5 803.5,543.5 811.5,547.5 819.5,553.5 827.5,552.5 835.5,551.5 843.5,554.5 851.5,562.5 859.5,575.5 867.5,574.5 875.5,579.5 883.5,572.5 891.5,574.5 899.5,571.5 907.5,575.5 915.5,574.5 923.5,573.5 931.5,575.5 939.5,580.5 947.5,579.5 955.5,580.5 963.5,581.5 971.5,581.5 979.5,581.5 987.5,583.5 995.5,574.5 1003.5,573.5 1011.5,578.5 1019.5,578.5 1027.5,576.5 1035.5,571.5 1043.5,574.5 1051.5,579.5 1059.5,576.5 1067.5,576.5 1075.5,579.5 1083.5,581.5 1091.5,584.5 1099.5,585.5 1107.5,575.5 1115.5,577.5 1123.5,576.5 1131.5,579.5 1139.5,574.5 1147.5,582.5 1155.5,584.5 1163.5,583.5 1171.5,578.5 1179.5,579.5 1187.5,575.5 1195.5,576.5 1203.5,578.5" fill="none" stroke="#1e90ff" stroke-width="1" shape-rendering="crispEdges"/>
<rect x="3" y="695" width="1" height="6" fill="#c0c0c0"/>
<rect x="11" y="694" width="1" height="7" fill="#c0c0c0"/>
<rect x="19" y="693" width="1" height="8" fill="#c0c0c0"/>
<rect x="27" y="694" width="1" height="7" fill="#c0c0c0"/>
<rect x="35" y="694" width="1" height="7" fill="#c0c0c0"/>
<rect x="43" y="694" width="1" height="7" fill="#c0c0c0"/>
<rect x="51" y="694" width="1" height="7" fill="#c0c0c0"/>
<rect x="59" y="694" width="1" height="7" fill="#c0c0c0"/>
<rect x="67" y="694" width="1" height="7" fill="#c0c0c0"/>
<rect x="75" y="694" width="1" height="7" fill="#c0c0c0"/>
<rect x="83" y="696" width="1" height="5" fill="#c0c0c0"/>
<rect x="91" y="698" width="1" height="3" fill="#c0c0c0"/>
<rect x="99" y="698" width="1" height="3" fill="#c0c0c0"/>
<rect x="107" y="698" width="1" height="3" fill="#c0c0c0"/>
<rect x="115" y="699" width="1" height="2" fill="#c0c0c0"/>
<rect x="123" y="699" width="1" height="2" fill="#c0c0c0"/>
<rect x="155" y="700" width="1" height="1" fill="#c0c0c0"/>
<rect x="163" y="700" width="1" height="3" fill="#c0c0c0"/>
<rect x="171" y="700" width="1" height="3" fill="#c0c0c0"/>
<rect x="179" y="700" width="1" height="5" fill="#c0c0c0"/>
<rect x="187" y="700" width="1" height="4" fill="#c0c0c0"/>
<rect x="195" y="700" width="1" height="5" fill="#c0c0c0"/>
<rect x="203" y="700" width="1" height="5" fill="#c0c0c0"/>
<rect x="211" y="700" width="1" height="5" fill="#c0c0c0"/>
<rect x="219" y="700" width="1" height="5" fill="#c0c0c0"/>
<rect x="227" y="700" width="1" height="5" fill="#c0c0c0"/>
<rect x="235" y="700" width="1" height="6" fill="#c0c0c0"/>
<rect x="243" y="700" width="1" height="6" fill="#c0c0c0"/>
<rect x="251" y="700" width="1" height="6" fill="#c0c0c0"/>
<rect x="259" y="700" width="1" height="8" fill="#c0c0c0"/>
<rect x="267" y="700" width="1" height="9" fill="#c0c0c0"/>
<rect x="275" y="700" width="1" height="10" fill="#c0c0c0"/>
<rect x="283" y="700" width="1" height="11" fill="#c0c0c0"/>
<rect x="291" y="700" width="1" height="12" fill="#c0c0c0"/>
<rect x="299" y="700" width="1" height="12" fill="#c0c0c0"/>
<rect x="307" y="700" width="1" height="13" fill="#c0c0c0"/>
<rect x="315" y="700" width="1" height="12" fill="#c0c0c0"/>
<rect x="323" y="700" width="1" height="12" fill="#c0c0c0"/>
<rect x="331" y="700" width="1" height="9" fill="#c0c0c0"/>
<rect x="339" y="700" width="1" height="8" fill="#c0c0c0"/>
<rect x="347" y="700" width="1" height="8" fill="#c0c0c0"/>
<rect x="355" y="700" width="1" height="6" fill="#c0c0c0"/>
<rect x="363" y="700" width="1" height="6" fill="#c0c0c0"/>
<rect x="371" y="700" width="1" height="6" fill="#c0c0c0"/>
<rect x="379" y="700" width="1" height="5" fill="#c0c0c0"/>
<rect x="387" y="700" width="1" height="5" fill="#c0c0c0"/>
<rect x="395" y="700" width="1" height="4" fill="#c0c0c0"/>
<rect x="403" y="700" width="1" height="4" fill="#c0c0c0"/>
<rect x="411" y="700" width="1" height="3" fill="#c0c0c0"/>
<rect x="419" y="700" width="1" height="2" fill="#c0c0c0"/>
<rect x="435" y="700" width="1" height="1" fill="#c0c0c0"/>
<rect x="443" y="699" width="1" height="2" fill="#c0c0c0"/>
<rect x="451" y="698" width="1" height="3" fill="#c0c0c0"/>
<rect x="459" y="697" width="1" height="4" fill="#c0c0c0"/>
<rect x="467" y="695" width="1" height="6" fill="#c0c0c0"/>
<rect x="475" y="694" width="1" height="7" fill="#c0c0c0"/>
<rect x="483" y="693" width="1" height="8" fill="#c0c0c0"/>
<rect x="491" y="692" width="1" height="9" fill="#c0c0c0"/>
<rect x="499" y="691" width="1" height="10" fill="#c0c0c0"/>
<rect x="507" y="690" width="1" height="11" fill="#c0c0c0"/>
<rect x="515" y="689" width="1" height="12" fill="#c0c0c0"/>
<rect x="523" y="689" width="1" height="12" fill="#c0c0c0"/>
<rect x="531" y="688" width="1" height="13" fill="#c0c0c0"/>
<rect x="539" y="688" width="1" height="13" fill="#c0c0c0"/>
<rect x="547" y="687" width="1" height="14" fill="#c0c0c0"/>
<rect x="555" y="688" width="1" height="13" fill="#c0c0c0"/>
<rect x="563" y="689" width="1" height="12" fill="#c0c0c0"/>
<rect x="571" y="690" width="1" height="11" fill="#c0c0c0"/>
<rect x="579" y="691" width="1" height="10" fill="#c0c0c0"/>
<rect x="587" y="692" width="1" height="9" fill="#c0c0c0"/>
<rect x="595" y="693" width="1" height="8" fill="#c0c0c0"/>
<rect x="603" y="693" width="1" height="8" fill="#c0c0c0"/>
<rect x="611" y="694" width="1" height="7" fill="#c0c0c0"/>
<rect x="619" y="695" width="1" height="6" fill="#c0c0c0"/>
<rect x="627" y="696" width="1" height="5" fill="#c0c0c0"/>
<rect x="635" y="697" width="1" height="4" fill="#c0c0c0"/>
<rect x="643" y="697" width="1" height="4" fill="#c0c0c0"/>
<rect x="651" y="696" width="1" height="5" fill="#c0c0c0"/>
<rect x="659" y="696" width="1" height="5" fill="#c0c0c0"/>
<rect x="667" y="694" width="1" height="7" fill="#c0c0c0"/>
<rect x="675" y="692" width="1" height="9" fill="#c0c0c0"/>
<rect x="683" y="691" width="1" height="10" fill="#c0c0c0"/>
<rect x="691" y="690" width="1" height="11" fill="#c0c0c0"/>
<rect x="699" y="691" width="1" height="10" fill="#c0c0c0"/>
<rect x="707" y="690" width="1" height="11" fill="#c0c0c0"/>
<rect x="715" y="690" width="1" height="11" fill="#c0c0c0"/>
<rect x="723" y="689" width="1" height="12" fill="#c0c0c0"/>
<rect x="731" y="689" width="1" height="12" fill="#c0c0c0"/>
<rect x="739" y="687" width="1" height="14" fill="#c0c0c0"/>
<rect x="747" y="681" width="1" height="20" fill="#c0c0c0"/>
<rect x="755" y="677" width="1" height="24" fill="#c0c0c0"/>
<rect x="763" y="673" width="1" height="28" fill="#c0c0c0"/>
<rect x="771" y="667" width="1" height="34" fill="#c0c0c0"/>
<rect x="779" y="664" width="1" height="37" fill="#c0c0c0"/>
<rect x="787" y="661" width="1" height="40" fill="#c0c0c0"/>
<rect x="795" y="656" width="1" height="45" fill="#c0c0c0"/>
<rect x="803" y="646" width="1" height="55" fill="#c0c0c0"/>
<rect x="811" y="640" width="1" height="61" fill="#c0c0c0"/>
<rect x="819" y="638" width="1" height="63" fill="#c0c0c0"/>
<rect x="827" y="636" width="1" height="65" fill="#c0c0c0"/>
<rect x="835" y="633" width="1" height="68" fill="#c0c0c0"/>
<rect x="843" y="633" width="1" height="68" fill="#c0c0c0"/>
<rect x="851" y="636" width="1" height="65" fill="#c0c0c0"/>
<rect x="859" y="644" width="1" height="57" fill="#c0c0c0"/>
<rect x="867" y="650" width="1" height="51" fill="#c0c0c0"/>
<rect x="875" y="658" width="1" height="43" fill="#c0c0c0"/>
<rect x="883" y="661" width="1" height="40" fill="#c0c0c0"/>
<rect x="891" y="665" width="1" height="36" fill="#c0c0c0"/>
<rect x="899" y="666" width="1" height="35" fill="#c0c0c0"/>
<rect x="907" y="669" width="1" height="32" fill="#c0c0c0"/>
<rect x="915" y="672" width="1" height="29" fill="#c0c0c0"/>
<rect x="923" y="674" width="1" height="27" fill="#c0c0c0"/>
<rect x="931" y="676" width="1" height="25" fill="#c0c0c0"/>
<rect x="939" y="681" width="1" height="20" fill="#c0c0c0"/>
<rect x="947" y="685" width="1" height="16" fill="#c0c0c0"/>
<rect x="955" y="688" width="1" height="13" fill="#c0c0c0"/>
<rect x="963" y="691" width="1" height="10" fill="#c0c0c0"/>
<rect x="971" y="694" width="1" height="7" fill="#c0c0c0"/>
<rect x="979" y="696" width="1" height="5" fill="#c0c0c0"/>
<rect x="987" y="698" width="1" height="3" fill="#c0c0c0"/>
<rect x="995" y="697" width="1" height="4" fill="#c0c0c0"/>
<rect x="1003" y="695" width="1" height="6" fill="#c0c0c0"/>
<rect x="1011" y="696" width="1" height="5" fill="#c0c0c0"/>
<rect x="1019" y="697" width="1" height="4" fill="#c0c0c0"/>
<rect x="1027" y="697" width="1" height="4" fill="#c0c0c0"/>
<rect x="1035" y="694" width="1" height="7" fill="#c0c0c0"/>
<rect x="1043" y="693" width="1" height="8" fill="#c0c0c0"/>
<rect x="1051" y="695" width="1" height="6" fill="#c0c0c0"/>
<rect x="1059" y="694" width="1" height="7" fill="#c0c0c0"/>
<rect x="1067" y="694" width="1" height="7" fill="#c0c0c0"/>
<rect x="1075" y="696" width="1" height="5" fill="#c0c0c0"/>
<rect x="1083" y="698" width="1" height="3" fill="#c0c0c0"/>
<rect x="1091" y="700" width="1" height="1" fill="#c0c0c0"/>
<rect x="1099" y="700" width="1" height="1" fill="#c0c0c0"/>
<rect x="1115" y="700" width="1" height="1" fill="#c0c0c0"/>
<rect x="1123" y="699" width="1" height="2" fill="#c0c0c0"/>
<rect x="1131" y="699" width="1" height="2" fill="#c0c0c0"/>
<rect x="1139" y="699" width="1" height="2" fill="#c0c0c0"/>
<rect x="1147" y="700" width="1" height="1" fill="#c0c0c0"/>
<rect x="1155" y="700" width="1" height="1" fill="#c0c0c0"/>
<rect x="1163" y="700" width="1" height="2" fill="#c0c0c0"/>
<rect x="1171" y="700" width="1" height="2" fill="#c0c0c0"/>
<rect x="1179" y="700" width="1" height="1" fill="#c0c0c0"/>
<rect x="1187" y="700" width="1" height="1" fill="#c0c0c0"/>
<rect x="1195" y="700" width="1" height="1" fill="#c0c0c0"/>
<rect x="1203" y="700" width="1" height="1" fill="#c0c0c0"/>
<polyline points="3.5,695.5 11.5,695.5 19.5,695.5 27.5,694.5 35.5,693.5 43.5,693.5 51.5,693.5 59.5,693.5 67.5,693.5 75.5,693.5 83.5,693.5 91.5,694.5 99.5,694.5 107.5,695.5 115.5,695.5 123.5,695.5 131.5,696.5 139.5,697.5 147.5,698.5 155.5,699.5 163.5,699.5 171.5,700.5 179.5,701.5 187.5,702.5 195.5,702.5 203.5,703.5 211.5,704.5 219.5,704.5 227.5,704.5 235.5,705.5 243.5,705.5 251.5,705.5 259.5,706.5 267.5,707.5 275.5,707.5 283.5,708.5 291.5,709.5 299.5,710.5 307.5,710.5 315.5,711.5 323.5,712.5 331.5,712.5 339.5,712.5 347.5,711.5 355.5,710.5 363.5,710.5 371.5,709.5 379.5,708.5 387.5,707.5 395.5,706.5 403.5,706.5 411.5,705.5 419.5,704.5 427.5,704.5 435.5,703.5 443.5,702.5 451.5,701.5 459.5,700.5 467.5,699.5 475.5,698.5 483.5,697.5 491.5,696.5 499.5,695.5 507.5,693.5 515.5,692.5 523.5,691.5 531.5,691.5 539.5,690.5 547.5,689.5 555.5,688.5 563.5,688.5 571.5,688.5 579.5,688.5 587.5,688.5 595.5,689.5 603.5,689.5 611.5,690.5 619.5,691.5 627.5,692.5 635.5,693.5 643.5,693.5 651.5,694.5 659.5,694.5 667.5,694.5 675.5,694.5 683.5,693.5 691.5,693.5 699.5,693.5 707.5,692.5 715.5,691.5 723.5,691.5 731.5,690.5 739.5,689.5 747.5,688.5 755.5,686.5 763.5,683.5 771.5,682.5 779.5,678.5 787.5,676.5 795.5,672.5 803.5,668.5 811.5,662.5 819.5,656.5 827.5,653.5 835.5,648.5 843.5,644.5 851.5,641.5 859.5,639.5 867.5,638.5 875.5,640.5 883.5,642.5 891.5,644.5 899.5,648.5 907.5,654.5 915.5,657.5 923.5,661.5 931.5,665.5 939.5,668.5 947.5,671.5 955.5,674.5 963.5,677.5 971.5,681.5 979.5,684.5 987.5,686.5 995.5,689.5 1003.5,691.5 1011.5,692.5 1019.5,693.5 1027.5,695.5 1035.5,695.5 1043.5,695.5 1051.5,695.5 1059.5,694.5 1067.5,694.5 1075.5,694.5 1083.5,694.5 1091.5,695.5 1099.5,695.5 1107.5,696.5 1115.5,697.5 1123.5,697.5 1131.5,698.5 1139.5,698.5 1147.5,699.5 1155.5,699.5 1163.5,700.5 1171.5,700.5 1179.5,700.5 1187.5,700.5 1195.5,700.5 1203.5,700.5" fill="none" stroke="#ff0000" stroke-width="1" stroke-dasharray="3,3" shape-rendering="crispEdges"/>
<rect x="2" y="25" width="1517" height="1" fill="#000"/>
<rect x="2" y="25" width="1" height="506" fill="#000"/>
<rect x="1518" y="25" width="1" height="506" fill="#000"/>
<rect x="2" y="530" width="1517" height="1" fill="#000"/>
<rect x="2" y="532" width="1517" height="1" fill="#000"/>
<rect x="2" y="532" width="1" height="93" fill="#000"/>
<rect x="1518" y="532" width="1" height="93" fill="#000"/>
<rect x="2" y="624" width="1517" height="1" fill="#000"/>
<rect x="2" y="626" width="1517" height="1" fill="#000"/>
<rect x="2" y="626" width="1" height="93" fill="#000"/>
<rect x="1518" y="626" width="1" height="93" fill="#000"/>
<rect x="2" y="718" width="1517" height="1" fill="#000"/>
<rect x="2" y="126" width="1" height="6" fill="#ff0000"/>
<rect x="2" y="201" width="1" height="6" fill="#ff0000"/>
<rect x="2" y="271" width="1" height="6" fill="#00ff00"/>
<rect x="2" y="337" width="1" height="6" fill="#0000ff"/>
<rect x="2" y="419" width="1" height="6" fill="#0000ff"/>
<rect x="1519" y="32" width="3" height="1" fill="#000"/>
<rect x="1519" y="65" width="3" height="1" fill="#000"/>
<rect x="1519" y="98" width="3" height="1" fill="#000"/>
<rect x="1519" y="131" width="3" height="1" fill="#000"/>
<rect x="1519" y="164" width="3" height="1" fill="#000"/>
<rect x="1519" y="197" width="3" height="1" fill="#000"/>
<rect x="1519" y="230" width="3" height="1" fill="#000"/>
<rect x="1519" y="263" width="3" height="1" fill="#000"/>
<rect x="1519" y="296" width="3" height="1" fill="#000"/>
<rect x="1519" y="329" width="3" height="1" fill="#000"/>
<rect x="1519" y="362" width="3" height="1" fill="#000"/>
<rect x="1519" y="395" width="3" height="1" fill="#000"/>
<rect x="1519" y="428" width="3" height="1" fill="#000"/>
<rect x="1519" y="461" width="3" height="1" fill="#000"/>
<rect x="1519" y="494" width="3" height="1" fill="#000"/>
<rect x="1519" y="526" width="3" height="1" fill="#000"/>
<rect x="1519" y="560" width="2" height="1" fill="#000"/>
<rect x="1519" y="596" width="2" height="1" fill="#000"/>
<rect x="1519" y="533" width="2" height="1" fill="#000"/>
<rect x="1519" y="623" width="2" height="1" fill="#000"/>
<rect x="1519" y="700" width="3" height="1" fill="#000"/>
<rect x="1519" y="627" width="2" height="1" fill="#000"/>
<rect x="1519" y="717" width="2" height="1" fill="#000"/>
<rect x="3" y="719" width="1" height="3" fill="#000"/>
<rect x="67" y="719" width="1" height="3" fill="#000"/>
<rect x="131" y="719" width="1" height="3" fill="#000"/>
<rect x="195" y="719" width="1" height="3" fill="#000"/>
<rect x="259" y="719" width="1" height="3" fill="#000"/>
<rect x="323" y="719" width="1" height="3" fill="#000"/>
<rect x="387" y="719" width="1" height="3" fill="#000"/>
<rect x="451" y="719" width="1" height="3" fill="#000"/>
<rect x="515" y="719" width="1" height="3" fill="#000"/>
<rect x="579" y="719" width="1" height="3" fill="#000"/>
<rect x="643" y="719" width="1" height="3" fill="#000"/>
<rect x="707" y="719" width="1" height="3" fill="#000"/>
<rect x="771" y="719" width="1" height="3" fill="#000"/>
<rect x="835" y="719" width="1" height="3" fill="#000"/>
<rect x="899" y="719" width="1" height="3" fill="#000"/>
<rect x="963" y="719" width="1" height="3" fill="#000"/>
<rect x="1027" y="719" width="1" height="3" fill="#000"/>
<rect x="1091" y="719" width="1" height="3" fill="#000"/>
<rect x="1155" y="719" width="1" height="3" fill="#000"/>
<polygon points="5.8,31.7 13,31.7 9.4,35.8" fill="#000" shape-rendering="geometricPrecision"/>
</svg>
<div class="t" style="left:18.3px;top:27.5px;letter-spacing:-0.203px">USDCAD,Daily</div>
<div class="t" style="left:90.4px;top:27.5px;letter-spacing:-0.421px">1.40872 1.40942 1.40310 1.40446</div>
<div class="t" style="left:6.8px;top:535.8px;letter-spacing:-0.406px">RSI(14) 50.6931</div>
<div class="t" style="left:6.8px;top:629.7px;letter-spacing:-0.364px">MACD(12,26,9) 0.000157 -0.000378</div>
<div class="pl" style="top:26.7px">1.47340</div>
<div class="pl" style="top:59.7px">1.46115</div>
<div class="pl" style="top:92.6px">1.44890</div>
<div class="pl" style="top:125.6px">1.43665</div>
<div class="pl" style="top:158.5px">1.42475</div>
<div class="pl" style="top:191.4px">1.41285</div>
<div class="pl" style="top:224.4px">1.40060</div>
<div class="pl" style="top:257.4px">1.38835</div>
<div class="pl" style="top:290.3px">1.37645</div>
<div class="pl" style="top:323.2px">1.36420</div>
<div class="pl" style="top:356.2px">1.35230</div>
<div class="pl" style="top:389.2px">1.34005</div>
<div class="pl" style="top:422.1px">1.32780</div>
<div class="pl" style="top:455.1px">1.31590</div>
<div class="pl" style="top:488.0px">1.30365</div>
<div class="pl" style="top:521.0px">1.29175</div>
<div class="pl" style="left:1522.2px;top:533.8px">100</div>
<div class="pl" style="left:1522.2px;top:554.6px">70</div>
<div class="pl" style="left:1522.2px;top:590.8px">30</div>
<div class="pl" style="left:1522.2px;top:611.6px">0</div>
<div class="pl" style="left:1522.2px;top:627.6px;letter-spacing:-0.3px">0.032493</div>
<div class="pl" style="left:1522.2px;top:694.6px;letter-spacing:-0.45px">0.00</div>
<div class="pl" style="left:1522.2px;top:706.0px;letter-spacing:-0.35px">-0.008086</div>
<div class="bx" style="top:123px;background:#ff0000"><span>1.43780</span></div>
<div class="bx" style="top:198px;background:#ff0000"><span>1.41000</span></div>
<div class="bx" style="top:215px;background:#000"><span>1.40446</span></div>
<div class="bx" style="top:268px;background:#00ff00"><span>1.38447</span></div>
<div class="bx" style="top:334px;background:#0000ff"><span>1.36029</span></div>
<div class="bx" style="top:416px;background:#0000ff"><span>1.33026</span></div>
<div class="dl" style="left:2.4px;letter-spacing:-0.291px">22 Nov 2019</div>
<div class="dl" style="left:66.4px;letter-spacing:-0.472px">2 Dec 2019</div>
<div class="dl" style="left:130.4px;letter-spacing:-0.487px">11 Dec 2019</div>
<div class="dl" style="left:194.4px;letter-spacing:-0.551px">20 Dec 2019</div>
<div class="dl" style="left:258.4px;letter-spacing:-0.561px">30 Dec 2019</div>
<div class="dl" style="left:322.4px;letter-spacing:-0.599px">8 Jan 2020</div>
<div class="dl" style="left:386.4px;letter-spacing:-0.495px">17 Jan 2020</div>
<div class="dl" style="left:450.4px;letter-spacing:-0.525px">27 Jan 2020</div>
<div class="dl" style="left:514.4px;letter-spacing:-0.422px">5 Feb 2020</div>
<div class="dl" style="left:578.4px;letter-spacing:-0.496px">14 Feb 2020</div>
<div class="dl" style="left:642.4px;letter-spacing:-0.496px">24 Feb 2020</div>
<div class="dl" style="left:706.4px;letter-spacing:-0.443px">4 Mar 2020</div>
<div class="dl" style="left:770.4px;letter-spacing:-0.445px">13 Mar 2020</div>
<div class="dl" style="left:834.4px;letter-spacing:-0.425px">23 Mar 2020</div>
<div class="dl" style="left:898.4px;letter-spacing:-0.353px">1 Apr 2020</div>
<div class="dl" style="left:962.4px;letter-spacing:-0.334px">10 Apr 2020</div>
<div class="dl" style="left:1026.4px;letter-spacing:-0.334px">20 Apr 2020</div>
<div class="dl" style="left:1090.4px;letter-spacing:-0.334px">29 Apr 2020</div>
<div class="dl" style="left:1154.4px;letter-spacing:-0.240px">8 May 2020</div>
<div style="position:absolute;left:0;top:739px;width:1560px;height:1px;background:#e3e3e3"></div>
<div style="position:absolute;left:0;top:742px;width:1560px;height:22px;background:#f0f0f0"></div>
<div style="position:absolute;left:0;top:742px;width:1560px;height:1px;background:#fafafa"></div>
<div style="position:absolute;left:0;top:761px;width:1560px;height:1px;background:#fbfbfb"></div>
<div style="position:absolute;left:0;top:741px;width:1560px;height:1px;background:#000"></div>
<div style="position:absolute;left:311px;top:742px;width:1px;height:19px;background:#fafafa"></div>
<div style="position:absolute;left:312px;top:741px;width:104px;height:19px;background:#000"></div>
<div style="position:absolute;left:313px;top:740px;width:102px;height:19px;background:#fff"></div>
<div class="tab" style="left:15.8px;letter-spacing:-0.053px">EURUSD,Daily</div>
<div class="tab" style="left:118.0px;letter-spacing:0.002px">USDCHF,Daily</div>
<div class="tab" style="left:218.9px;letter-spacing:0.129px">AUDUSD,Daily</div>
<div class="tab" style="left:425.7px;letter-spacing:0.151px">USDCNH,Daily</div>
<div class="tab" style="left:531.8px;letter-spacing:-0.080px">EURUSD,Daily</div>
<div class="tab" style="left:635.7px;letter-spacing:-0.053px">GBPUSD,Daily</div>
<div class="tab" style="left:738.9px;letter-spacing:-0.011px">XAUUSD,H4</div>
<div class="tab" style="left:830.6px;letter-spacing:0.185px">HK50,H1</div>
<div class="tab" style="left:902.7px;letter-spacing:0.148px">UK100,H1</div>
<div class="tab" style="left:982.7px;letter-spacing:0.176px">UK100,H1</div>
<div class="tab" style="left:1062.7px;letter-spacing:-0.204px">GER30,H1</div>
<div class="tab" style="left:1142.2px;letter-spacing:-0.246px">FRA40,H1</div>
<div class="tab" style="left:1217.4px;letter-spacing:0.184px">USOil,H1</div>
<div class="tab" style="left:1289.6px;letter-spacing:-0.171px">USDJPY,H1</div>
<div class="tab" style="left:1374.2px;letter-spacing:-0.015px">DJ30,H1</div>
<div class="tab" style="left:322.9px;color:#000;letter-spacing:0.047px">USDCAD,Daily</div>
<div class="sep" style="left:108px"></div>
<div class="sep" style="left:209px"></div>
<div class="sep" style="left:520px"></div>
<div class="sep" style="left:624px"></div>
<div class="sep" style="left:728px"></div>
<div class="sep" style="left:820px"></div>
<div class="sep" style="left:892px"></div>
<div class="sep" style="left:972px"></div>
<div class="sep" style="left:1052px"></div>
<div class="sep" style="left:1132px"></div>
<div class="sep" style="left:1208px"></div>
<div class="sep" style="left:1280px"></div>
<div class="sep" style="left:1364px"></div>
<div class="sep" style="left:1432px"></div>
<svg width="40" height="14" style="left:1525px;top:744px" viewBox="0 0 40 14"><polygon points="8.6,6.1 12.2,2.9 12.2,9.3" fill="#8c8c8c"/><polygon points="31.4,6.1 27.8,2.9 27.8,9.3" fill="#8c8c8c"/></svg>
</body></html>
